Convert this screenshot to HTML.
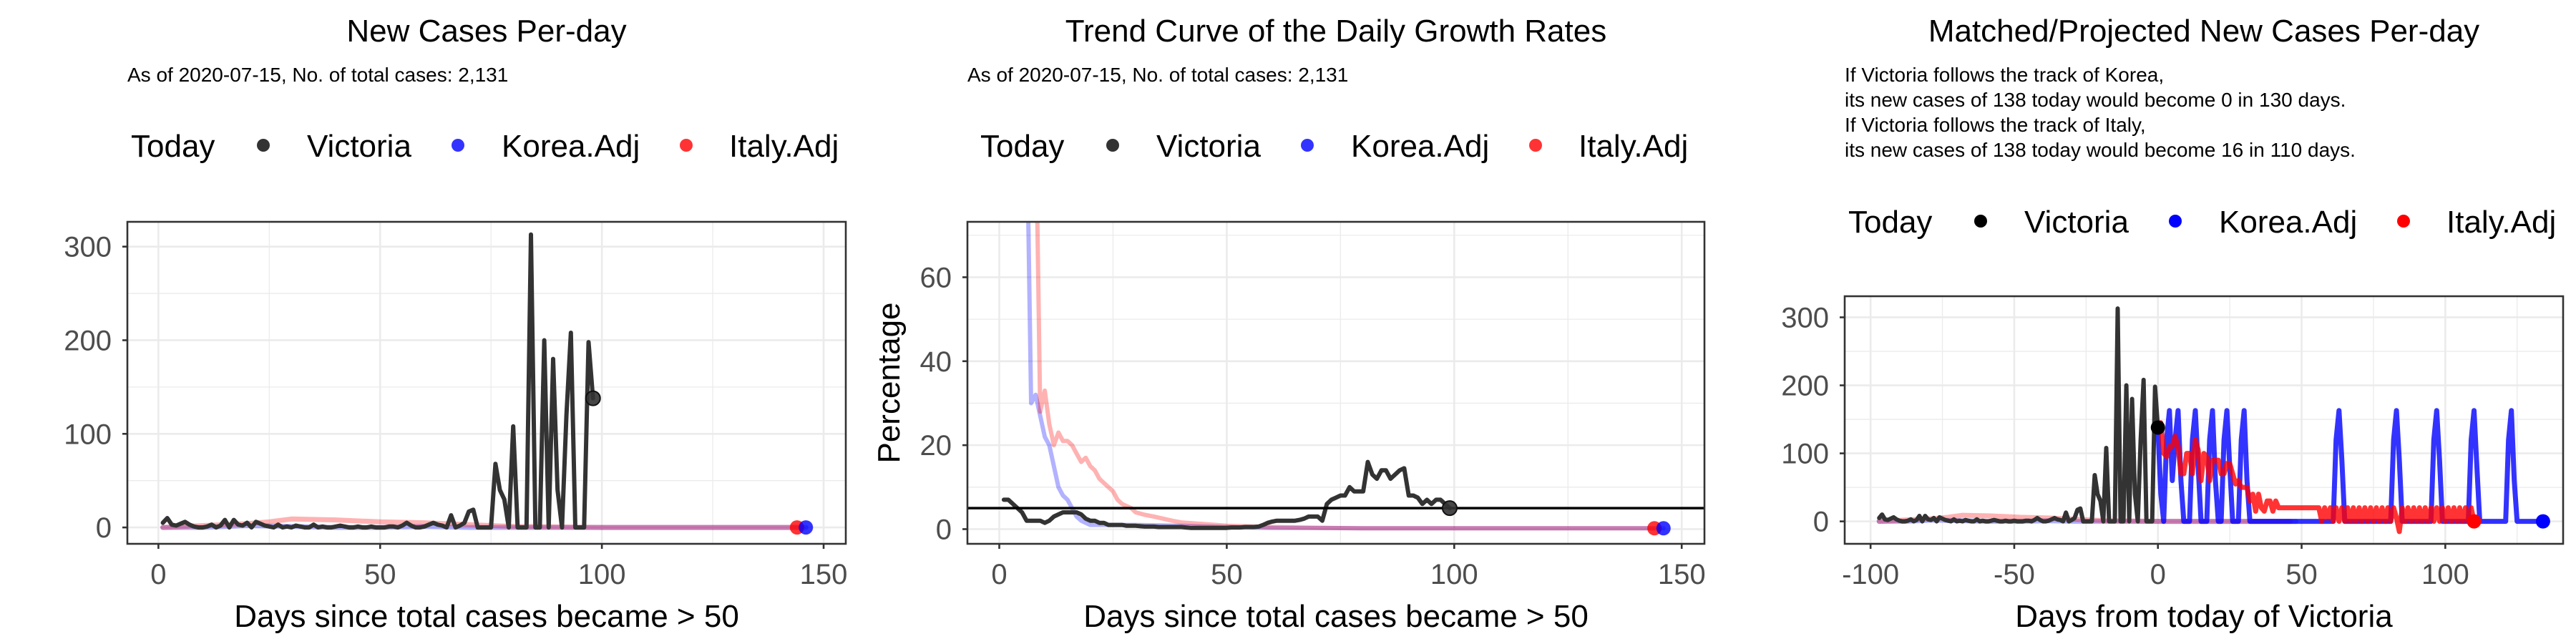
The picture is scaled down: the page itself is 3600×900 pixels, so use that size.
<!DOCTYPE html>
<html><head><meta charset="utf-8"><style>
html,body{margin:0;padding:0;background:#fff;}
svg{display:block;font-family:"Liberation Sans",Arial,sans-serif;}
</style></head><body>
<svg id="chart" width="3600" height="900" viewBox="0 0 3600 900" xmlns="http://www.w3.org/2000/svg"></svg>
<script>
// ===== Data =====
const vicDaily = [5,10,3,2,4,6,3,1,0,0,1,3,0,2,8,0,8,3,2,5,0,6,4,2,1,0,3,0,1,0,2,1,0,0,3,0,1,0,0,1,2,1,0,0,1,0,0,1,0,0,0,1,1,0,2,5,2,0,0,1,3,5,3,2,0,13,0,2,5,17,19,0,0,0,0,68,40,30,0,108,0,0,0,313,0,0,200,0,180,40,0,120,208,0,0,0,198,138];
const koreaHistDays = [1,10,20,30,40,50,60,70,80,100,120,146];
const koreaHistVals = [0,0,2,1,0,0,1,0,0,0,0,0];
const italyHistDays = [1,10,20,25,30,40,50,60,70,80,100,120,144];
const italyHistVals = [0,2,4,6,9,8,6,5,3,1,0,0,0];
const vicGrowth = [7,7,6,5,4,2,2,2,2,1.5,2,3,3.5,4,4,4,4,3.5,2.5,2,2,1.5,1.5,1,1,1,1,0.8,0.8,0.8,0.7,0.6,0.6,0.6,0.5,0.5,0.5,0.5,0.5,0.5,0.4,0.3,0.3,0.3,0.3,0.3,0.3,0.3,0.3,0.3,0.4,0.4,0.4,0.5,0.5,0.5,0.6,1,1.5,1.8,2,2,2,2,2,2.2,2.5,3,3,3,2,6,7,7.5,8,8,10,9,9,9,16,13,12,14,14,12,13,14,14.5,8,8,7.5,6,7,6,7,7,6,5];
const koreaGrowthDays = [1,6,7,8,9,10,11,12,13,14,15,16,17,18,19,20,25,30,40,50,60,70,80,100,120,146];
const koreaGrowthVals = [100,100,30,32,27,22,20,15,10,8,7,5,3,2,1.5,1,1,1,0.8,0.5,0.3,0.3,0.2,0.2,0.2,0.2];
const italyGrowthDays = [1,8,9,10,11,12,13,14,15,16,17,18,19,20,21,22,23,24,25,26,27,28,29,30,32,34,36,38,40,45,50,60,70,80,100,120,144];
const italyGrowthVals = [100,100,28,33,25,20,23,21,21,20,18,16,17,15,14,12,11,10,9,7,6,5.5,5,4,3.4,3,2.5,2,1.6,1.2,0.8,0.5,0.3,0.2,0.2,0.2,0.2];
const koreaProj = [138,40,0,120,163,60,120,163,60,0,0,0,120,163,80,0,0,0,120,163,60,0,0,120,163,80,0,0,0,120,163,60,0,0,0,0,0,0,0,0,0,0,0,0,0,0,0,0,0,0,0,0,0,0,0,0,0,0,0,0,0,0,120,163,90,0,0,0,0,0,0,0,0,0,0,0,0,0,0,0,0,0,120,163,90,0,0,0,0,0,0,0,0,0,0,0,120,163,90,0,0,0,0,0,0,0,0,0,0,120,163,80,0,0,0,0,0,0,0,0,0,0,120,163,60,0,0,0,0,0,0,0,0,0,0];
const italyProj = [140,145,100,95,110,110,125,110,70,70,100,100,70,120,105,60,100,95,60,90,90,90,70,70,85,85,70,55,60,50,50,50,30,40,15,40,20,15,30,30,15,30,20,20,20,20,20,20,20,20,20,20,20,20,20,20,20,0,20,5,20,0,20,0,20,0,20,0,20,0,20,0,20,0,20,0,20,0,20,0,20,0,20,5,-15,20,0,20,0,20,0,20,0,20,0,20,0,20,0,20,0,20,0,20,0,20,0,20,0,20,0];
const xTicks12 = [0,50,100,150];
const yTicks1 = [0,100,200,300];
const yTicks2 = [0,20,40,60];
const xTicks3 = [-100,-50,0,50,100];
const yTicks3 = [0,100,200,300];

const NS="http://www.w3.org/2000/svg";
const svg=document.getElementById('chart');
function mk(tag,attrs,parent){const e=document.createElementNS(NS,tag);for(const k in attrs)e.setAttribute(k,attrs[k]);(parent||svg).appendChild(e);return e;}
function txt(s,attrs,parent){const e=mk('text',attrs,parent);e.textContent=s;return e;}

function panel(p){
  const g=mk('g',{});
  
  
  const X=v=>p.L+(v-p.x0)/(p.x1-p.x0)*(p.R-p.L);
  const Y=v=>p.T+(p.y1-v)/(p.y1-p.y0)*(p.B-p.T);
  const t=txt(p.title,{x:(p.L+p.R)/2,y:58,'font-size':44,'text-anchor':'middle',fill:'#000'},g);
  
  p.sub.forEach((s,i)=>{const e=txt(s,{x:p.L,y:114+i*35,'font-size':28,fill:'#000'},g);
    });
  const lg=mk('g',{},g);
  const ly=p.legY, lx=p.L+p.legDx;
  txt('Today',{x:lx,y:ly+16,'font-size':44},lg);
  const items=[['Victoria',p.solid?'#000':'#333',185,246],['Korea.Adj',p.solid?'#00f':'rgba(0,0,255,0.8)',457,518],['Italy.Adj',p.solid?'#f00':'rgba(255,0,0,0.8)',776,836]];
  items.forEach(it=>{const ge=mk('g',{},lg);
    mk('circle',{cx:lx+it[2],cy:ly,r:9,fill:it[1]},ge);
    txt(it[0],{x:lx+it[3],y:ly+16,'font-size':44},ge);});
  const cid='clip'+p.name;
  const cp=mk('clipPath',{id:cid},g);mk('rect',{x:p.L,y:p.T,width:p.R-p.L,height:p.B-p.T},cp);
  const grid=mk('g',{'clip-path':`url(#${cid})`},g);
  const xt=p.xTicks, yt=p.yTicks, dx=xt[1]-xt[0], dy=yt[1]-yt[0];
  for(let v=xt[0]-dx/2;v<=p.x1+dx;v+=dx/2){const major=xt.includes(v);mk('line',{x1:X(v),x2:X(v),y1:p.T,y2:p.B,stroke:'#ebebeb','stroke-width':major?2.6:1.3},grid);}
  for(let v=yt[0]-dy/2;v<=p.y1+dy;v+=dy/2){const major=yt.includes(v);mk('line',{x1:p.L,x2:p.R,y1:Y(v),y2:Y(v),stroke:'#ebebeb','stroke-width':major?2.6:1.3},grid);}
  const data=mk('g',{'clip-path':`url(#${cid})`},g);
  p.draw(data,X,Y);
  const bd=mk('rect',{x:p.L,y:p.T,width:p.R-p.L,height:p.B-p.T,fill:'none',stroke:'#333','stroke-width':2.6},g);
  
  const ax=mk('g',{},g);
  xt.forEach(v=>{mk('line',{x1:X(v),x2:X(v),y1:p.B,y2:p.B+7,stroke:'#333','stroke-width':2.6},ax);
    txt(String(v),{x:X(v),y:816,'font-size':40,'text-anchor':'middle',fill:'#4d4d4d'},ax);});
  const xtl=txt(p.xTitle,{x:(p.L+p.R)/2,y:876,'font-size':44,'text-anchor':'middle'},g);
  
  const ay=mk('g',{},g);
  yt.forEach(v=>{mk('line',{x1:p.L-7,x2:p.L,y1:Y(v),y2:Y(v),stroke:'#333','stroke-width':2.6},ay);
    txt(String(v),{x:p.L-22,y:Y(v)+14,'font-size':40,'text-anchor':'end',fill:'#4d4d4d'},ay);});
  if(p.yTitle){const yl=txt(p.yTitle,{x:0,y:0,'font-size':44,'text-anchor':'middle',transform:`translate(${p.L-95},${(p.T+p.B)/2}) rotate(-90)`},g);
    }
}
function line(parent,name,xs,ys,X,Y,stroke,w){
  const d=xs.map((x,i)=>(i?'L':'M')+X(x).toFixed(1)+','+Y(ys[i]).toFixed(1)).join('');
  const e=mk('path',{d:d,fill:'none',stroke:stroke,'stroke-width':w,'stroke-linejoin':'round','stroke-linecap':'round'},parent);
  return e;
}
function dot(parent,name,cx,cy,fill){const e=mk('circle',{cx:cx,cy:cy,r:10,fill:fill,stroke:fill==='rgba(51,51,51,0.9)'?'#111':'none','stroke-width':2},parent);
  }
const idx=(arr,start)=>arr.map((_,i)=>i+start);
const sub12=['As of 2020-07-15, No. of total cases: 2,131'];

panel({name:'new-cases-panel',L:178,R:1182,T:310,B:760,x0:-7,x1:155,y0:-17.5,y1:326.5,
  xTicks:xTicks12,yTicks:yTicks1,title:'New Cases Per-day',sub:sub12,legY:203,legDx:5,
  xTitle:'Days since total cases became > 50',
  draw:(g,X,Y)=>{
    line(g,'korea-line',koreaHistDays,koreaHistVals,X,Y,'rgba(0,0,255,0.3)',7);
    line(g,'italy-line',italyHistDays,italyHistVals,X,Y,'rgba(255,0,0,0.3)',7);
    line(g,'victoria-line',idx(vicDaily,1),vicDaily,X,Y,'rgba(51,51,51,1)',6);
    dot(g,'victoria-today-dot',X(vicDaily.length),Y(vicDaily[vicDaily.length-1]),'rgba(51,51,51,0.9)');
    dot(g,'italy-today-dot',X(italyHistDays[italyHistDays.length-1]),Y(italyHistVals[italyHistVals.length-1]),'rgba(255,0,0,0.8)');
    dot(g,'korea-today-dot',X(koreaHistDays[koreaHistDays.length-1]),Y(koreaHistVals[koreaHistVals.length-1]),'rgba(0,0,255,0.8)');
  }});

panel({name:'growth-rate-panel',L:1352,R:2382,T:310,B:760,x0:-7,x1:155,y0:-3.5,y1:73.2,
  xTicks:xTicks12,yTicks:yTicks2,title:'Trend Curve of the Daily Growth Rates',sub:sub12,legY:203,legDx:18,
  xTitle:'Days since total cases became > 50',yTitle:'Percentage',
  draw:(g,X,Y)=>{
    line(g,'korea-growth-line',koreaGrowthDays,koreaGrowthVals,X,Y,'rgba(0,0,255,0.3)',6);
    line(g,'italy-growth-line',italyGrowthDays,italyGrowthVals,X,Y,'rgba(255,0,0,0.3)',6);
    line(g,'victoria-growth-line',idx(vicGrowth,1),vicGrowth,X,Y,'rgba(51,51,51,1)',6);
    const h=mk('line',{x1:X(-7),x2:X(155),y1:Y(5),y2:Y(5),stroke:'#000','stroke-width':3.5},g);
    
    dot(g,'victoria-today-dot',X(vicGrowth.length),Y(vicGrowth[vicGrowth.length-1]),'rgba(51,51,51,0.9)');
    dot(g,'italy-today-dot',X(144),Y(0.2),'rgba(255,0,0,0.8)');
    dot(g,'korea-today-dot',X(146),Y(0.2),'rgba(0,0,255,0.8)');
  }});

panel({name:'projection-panel',L:2578,R:3582,T:414,B:760,x0:-109,x1:141,y0:-33,y1:331,
  xTicks:xTicks3,yTicks:yTicks3,title:'Matched/Projected New Cases Per-day',
  sub:['If Victoria follows the track of Korea,','its new cases of 138 today would become 0 in 130 days.','If Victoria follows the track of Italy,','its new cases of 138 today would become 16 in 110 days.'],
  legY:309,legDx:5,solid:true,xTitle:'Days from today of Victoria',
  draw:(g,X,Y)=>{
    const n=vicDaily.length;
    line(g,'korea-history-line',koreaHistDays.map(d=>d-n),koreaHistVals,X,Y,'rgba(0,0,255,0.3)',7);
    line(g,'italy-history-line',italyHistDays.map(d=>d-n),italyHistVals,X,Y,'rgba(255,0,0,0.3)',7);
    line(g,'victoria-line',vicDaily.map((_,i)=>i+1-n),vicDaily,X,Y,'rgba(51,51,51,1)',6);
    line(g,'korea-projection-line',idx(koreaProj,0),koreaProj,X,Y,'rgba(0,0,255,0.8)',7);
    line(g,'italy-projection-line',idx(italyProj,0),italyProj,X,Y,'rgba(255,0,0,0.8)',7);
    dot(g,'victoria-today-dot',X(0),Y(vicDaily[n-1]),'#000');
    dot(g,'italy-end-dot',X(italyProj.length-1),Y(italyProj[italyProj.length-1]),'#f00');
    dot(g,'korea-end-dot',X(koreaProj.length-1),Y(koreaProj[koreaProj.length-1]),'#00f');
  }});
</script>
</body></html>
